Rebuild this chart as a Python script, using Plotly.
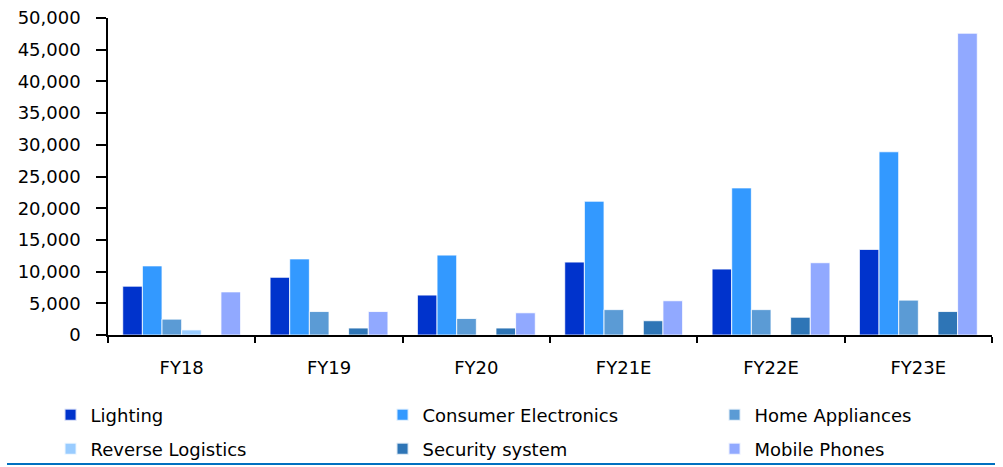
import plotly.graph_objects as go

# Fiscal years on the category axis
years = ["FY18", "FY19", "FY20", "FY21E", "FY22E", "FY23E"]

# Segment values per year
lighting = [7700, 9100, 6300, 11500, 10400, 13500]
consumer_electronics = [10900, 12000, 12600, 21100, 23200, 28900]
home_appliances = [2500, 3700, 2600, 4000, 4000, 5500]
reverse_logistics = [800, 0, 0, 0, 0, 0]
security_system = [0, 1100, 1100, 2250, 2800, 3700]
mobile_phones = [6800, 3700, 3500, 5400, 11400, 47600]

y_ticks = list(range(0, 50001, 5000))

series = [
    ("Lighting", lighting, "#0033CC", "legend"),
    ("Consumer Electronics", consumer_electronics, "#3399FF", "legend"),
    ("Home Appliances", home_appliances, "#5B9BD5", "legend"),
    ("Reverse Logistics", reverse_logistics, "#99CCFF", "legend2"),
    ("Security system", security_system, "#2E75B6", "legend2"),
    ("Mobile Phones", mobile_phones, "#91A9FF", "legend2"),
]

FONT = "'DejaVu Sans', sans-serif"
FS = 18

fig = go.Figure()
for name, vals, color, leg in series:
    fig.add_trace(go.Bar(
        name=name, x=years, y=vals, legend=leg,
        marker=dict(color=color, line=dict(color="rgba(255,255,255,0.8)", width=1)),
    ))

legend_common = dict(
    orientation="h", xanchor="left", yanchor="middle",
    entrywidth=287, entrywidthmode="pixels",
    font=dict(family=FONT, size=FS, color="#000000"),
    bgcolor="rgba(0,0,0,0)", itemsizing="constant",
)

fig.update_layout(
    width=1003, height=467,
    margin=dict(l=108, r=11, t=18, b=132, autoexpand=False),
    paper_bgcolor="white", plot_bgcolor="white",
    barmode="group", bargap=0.2, bargroupgap=0,
    font=dict(family=FONT, size=FS, color="#000000"),
    showlegend=True,
    legend=dict(x=-0.065, y=(335 - 415) / 317, **legend_common),
    legend2=dict(x=-0.065, y=(335 - 449) / 317, **legend_common),
    xaxis=dict(
        showline=True, linecolor="#000000", linewidth=1.5,
        ticks="outside", tickson="boundaries", ticklen=6, tickcolor="#000000",
        tickwidth=1.5, ticklabelstandoff=16, showgrid=False,
    ),
    yaxis=dict(
        range=[0, 50000], tickvals=y_ticks, tickformat=",",
        showline=True, linecolor="#000000", linewidth=1.5,
        ticks="outside", ticklen=10, tickcolor="#000000", tickwidth=1.5,
        ticklabelstandoff=12, showgrid=False, zeroline=False,
    ),
)

# Rule under the legend
fig.add_shape(type="line", xref="paper", yref="paper",
              x0=(7 - 108) / 884, x1=(995 - 108) / 884,
              y0=(335 - 464) / 317, y1=(335 - 464) / 317,
              line=dict(color="#0070C0", width=2))

fig.write_html("out.html")
